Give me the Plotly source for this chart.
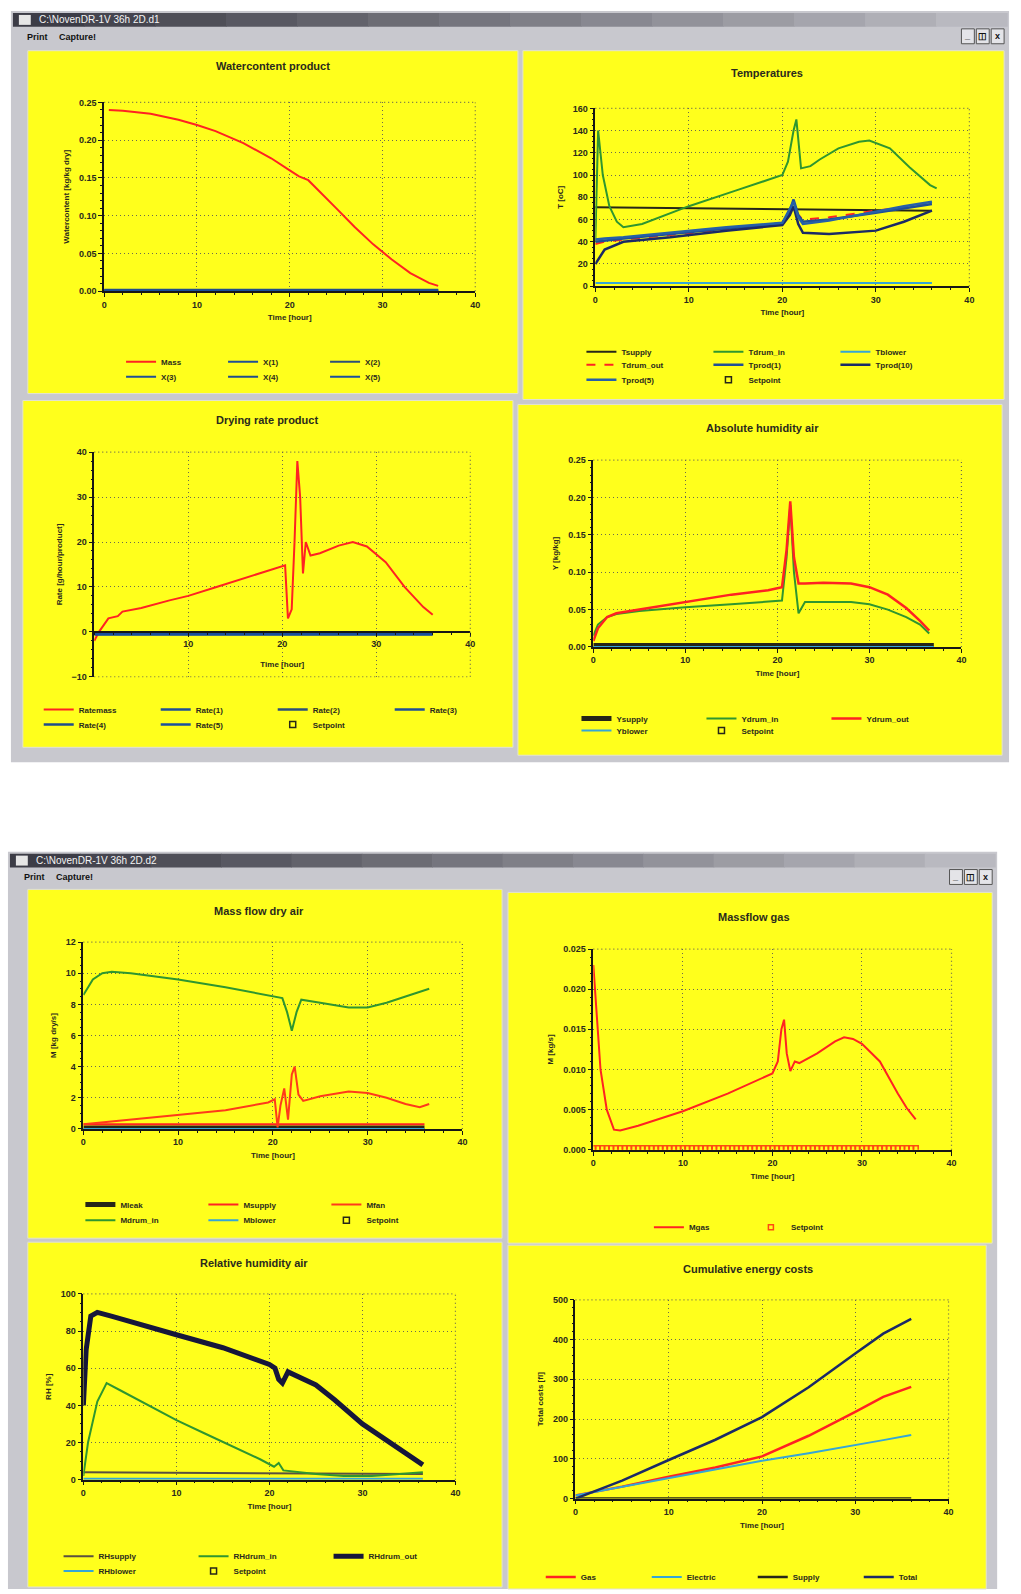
import plotly.graph_objects as go

W, H = 1021, 1594


def fx(x):
    return x / W


def fy(y):
    return 1 - y / H


# ------------------------------------------------------------------ data
# Panel 1 : Watercontent product
wc_time = [0.5, 2, 5, 8, 10, 12, 15, 18, 20, 21, 22, 23, 25, 27, 29, 31, 33, 35, 36]
wc_mass = [0.240, 0.239, 0.235, 0.227, 0.220, 0.212, 0.196, 0.176, 0.160, 0.152,
           0.147, 0.135, 0.110, 0.085, 0.062, 0.042, 0.024, 0.011, 0.007]
wc_x_time = [0, 36]
wc_x1 = [0.002, 0.002]
wc_x2 = [0.0015, 0.0015]
wc_x3 = [0.001, 0.001]
wc_x4 = [0.0005, 0.0005]
wc_x5 = [0.0, 0.0]

# Panel 2 : Temperatures
t_supply_time = [0, 36]
t_supply = [71, 68]
t_drumin_time = [0, 0.3, 0.8, 1.5, 2.3, 3, 5, 10, 15, 20, 20.6, 21.2, 21.5, 22, 23, 24, 26, 28.2, 29.3, 31.5, 33.6, 35.8, 36.5]
t_drumin = [40, 140, 100, 72, 58, 53, 56, 72, 86, 100, 112, 140, 150, 106, 108, 114, 124, 130, 131, 124, 107, 91, 88]
t_blower_time = [0, 36]
t_blower = [3, 3]
t_prod_time = [0, 1, 3, 8, 14, 20, 20.8, 21.2, 21.7, 22.2, 25, 30, 33, 36]
t_drumout = [38, 40, 42, 46, 51, 57, 66, 73, 64, 60, 62, 68, 71, 75]
t_prod1 = [40, 41, 43, 47, 52, 56, 68, 78, 64, 58, 60, 66, 70, 74]
t_prod10 = [20, 33, 40, 44, 50, 55, 64, 72, 56, 48, 47, 50, 58, 68]
t_prod5 = [42, 43, 44, 48, 53, 57, 70, 76, 62, 56, 59, 67, 72, 76]

# Panel 3 : Drying rate product
rate_time = [0, 0.5, 1.5, 2.5, 3, 5, 8, 10, 13, 16, 19, 20.3, 20.6, 21.0, 21.3, 21.6,
             21.9, 22.2, 22.5, 23, 24, 26, 27.5, 29, 31, 33, 35, 36]
rate_mass = [-2, 0, 3, 3.5, 4.5, 5.3, 7, 8, 10, 12, 14, 14.8, 3, 5, 20, 38,
             30, 13, 20, 17, 17.5, 19.2, 20, 19, 15.5, 10, 5.5, 3.8]
rate_n_time = [0, 36]
rate_1 = [-0.2, -0.2]
rate_2 = [-0.3, -0.3]
rate_3 = [-0.4, -0.4]
rate_4 = [-0.5, -0.5]
rate_5 = [-0.6, -0.6]

# Panel 4 : Absolute humidity air
y_time = [0, 0.5, 1.5, 2.5, 5, 10, 15, 19, 20.5, 21, 21.4, 21.8, 22.3, 23, 25, 28, 30, 32, 34, 35.5, 36.5]
y_drumout = [0.008, 0.025, 0.040, 0.045, 0.050, 0.060, 0.070, 0.076, 0.080, 0.130, 0.195,
             0.120, 0.085, 0.085, 0.086, 0.085, 0.080, 0.070, 0.052, 0.035, 0.022]
y_drumin = [0.015, 0.030, 0.040, 0.044, 0.048, 0.053, 0.057, 0.060, 0.062, 0.120, 0.190,
            0.100, 0.045, 0.060, 0.060, 0.060, 0.057, 0.050, 0.040, 0.030, 0.018]
y_flat_time = [0, 37]
y_supply = [0.002, 0.002]
y_blower = [0.0, 0.0]

# Panel 5 : Mass flow dry air
m_in_time = [0, 1, 2, 3, 5, 10, 15, 20, 21, 21.5, 22, 22.5, 23, 25, 28, 30, 32, 34, 36.5]
m_drumin = [8.6, 9.6, 10.0, 10.1, 10.0, 9.6, 9.1, 8.5, 8.4, 7.5, 6.3, 7.5, 8.3, 8.1, 7.8, 7.8, 8.1, 8.5, 9.0]
m_fan_time = [0, 5, 10, 15, 19.5, 20.2, 20.5, 20.8, 21.2, 21.6, 22, 22.3, 22.7, 23.2,
              25, 28, 30, 32, 34, 35.5, 36.5]
m_fan = [0.3, 0.6, 0.9, 1.2, 1.7, 1.9, 0.1, 1.5, 2.6, 0.6, 3.5, 4.0, 2.2, 1.8,
         2.1, 2.4, 2.3, 2.0, 1.6, 1.4, 1.6]
m_flat_time = [0, 36]
m_supply = [0.3, 0.3]
m_leak = [0.05, 0.05]
m_blower = [0.0, 0.0]

# Panel 6 : Massflow gas
g_time = [0, 0.3, 0.8, 1.5, 2.3, 3, 5, 10, 15, 20, 20.6, 21, 21.3, 21.6, 22, 22.5, 23,
          25, 27, 28, 29, 30, 32, 34, 35, 36]
m_gas = [0.023, 0.018, 0.010, 0.005, 0.0025, 0.0024, 0.0030, 0.0048, 0.0070, 0.0095,
         0.0110, 0.0150, 0.0162, 0.0120, 0.0098, 0.0110, 0.0108, 0.0120, 0.0135, 0.0140,
         0.0138, 0.0132, 0.0110, 0.0070, 0.0052, 0.0038]
g_setpoint_time = [0, 0.5, 1, 1.5, 2, 2.5, 3, 3.5, 4, 4.5, 5, 5.5, 6, 6.5, 7, 7.5, 8, 8.5,
                   9, 9.5, 10, 10.5, 11, 11.5, 12, 12.5, 13, 13.5, 14, 14.5, 15, 15.5, 16,
                   16.5, 17, 17.5, 18, 18.5, 19, 19.5, 20, 20.5, 21, 21.5, 22, 22.5, 23,
                   23.5, 24, 24.5, 25, 25.5, 26, 26.5, 27, 27.5, 28, 28.5, 29, 29.5, 30,
                   30.5, 31, 31.5, 32, 32.5, 33, 33.5, 34, 34.5, 35, 35.5, 36]
g_setpoint = [0.0002] * len(g_setpoint_time)

# Panel 7 : Relative humidity air
rh_out_time = [0, 0.3, 0.8, 1.5, 3, 5, 10, 15, 20, 20.6, 21, 21.4, 22, 25, 27, 30, 33, 36.5]
rh_drumout = [40, 70, 88, 90, 88, 85, 78, 71, 62, 60, 54, 52, 58, 51, 43, 30, 20, 8]
rh_in_time = [0, 0.5, 1.5, 2.5, 4, 7, 10, 13, 16, 19, 20.5, 21, 21.5, 23, 25, 28, 31, 34, 36.5]
rh_drumin = [2, 20, 42, 52, 48, 40, 32, 25, 18, 11, 7, 9, 5, 4, 3, 2, 2, 3, 4]
rh_flat_time = [0, 36.5]
rh_supply = [4, 3]
rh_blower = [0.5, 0.5]

# Panel 8 : Cumulative energy costs
c_time = [0, 5, 10, 15, 20, 25, 30, 33, 36]
c_total = [0, 45, 97, 148, 205, 280, 365, 415, 452]
c_gas = [8, 30, 55, 78, 106, 158, 218, 256, 281]
c_electric = [8, 30, 52, 74, 95, 114, 134, 147, 160]
c_supply_time = [0, 36]
c_supply = [0, 0]

# ------------------------------------------------------------------ styles
RED = "#ff2222"
GREEN = "#2f962f"
BLUE = "#1f4f96"
NAVY = "#1b2a66"
BLACK = "#262618"
CYAN = "#35a6d6"
TXT = "#2a2a1c"
GRID = "#6a6a50"
FONT = "Liberation Sans"

fig = go.Figure()

# panel geometry in pixels: yellow rect, plot area (x0,y0,x1,y1)
panels = {
    1: dict(rect=(25, 46, 519, 391), plot=(102, 98, 476, 288), title="Watercontent product", tpos=(272, 61),
            yr=[0, 0.25], yd=0.05, ym=0.01, fmt=".2f", ytitle="Watercontent [kg/kg dry]"),
    2: dict(rect=(524, 46, 1009, 397), plot=(597, 104, 974, 283), title="Temperatures", tpos=(770, 68),
            yr=[0, 160], yd=20, ym=5, fmt="", ytitle="T [oC]"),
    3: dict(rect=(20, 398, 514, 747), plot=(92, 450, 471, 676), title="Drying rate product", tpos=(266, 418),
            yr=[-10, 40], yd=10, ym=2, fmt="", ytitle="Rate [g/hour/product]"),
    4: dict(rect=(519, 402, 1007, 755), plot=(595, 458, 966, 646), title="Absolute humidity air", tpos=(765, 426),
            yr=[0, 0.25], yd=0.05, ym=0.01, fmt=".2f", ytitle="Y [kg/kg]"),
    5: dict(rect=(25, 890, 503, 1241), plot=(81, 943, 463, 1131), title="Mass flow dry air", tpos=(258, 912),
            yr=[0, 12], yd=2, ym=0.5, fmt="", ytitle="M [kg dry/s]"),
    6: dict(rect=(509, 893, 997, 1246), plot=(595, 950, 956, 1152), title="Massflow gas", tpos=(757, 918),
            yr=[0, 0.025], yd=0.005, ym=0.001, fmt=".3f", ytitle="M [kg/s]"),
    7: dict(rect=(25, 1245, 503, 1592), plot=(81, 1297, 456, 1484), title="Relative humidity air", tpos=(253, 1266),
            yr=[0, 100], yd=20, ym=5, fmt="", ytitle="RH [%]"),
    8: dict(rect=(509, 1248, 991, 1594), plot=(577, 1303, 953, 1503), title="Cumulative energy costs", tpos=(751, 1272),
            yr=[0, 500], yd=100, ym=20, fmt="", ytitle="Total costs [fl]"),
}

shapes = []
annotations = []


def rect(x0, y0, x1, y1, fill, line=None, lw=0):
    shapes.append(dict(type="rect", xref="paper", yref="paper", x0=fx(x0), x1=fx(x1), y0=fy(y1), y1=fy(y0),
                       fillcolor=fill, line=dict(color=line or fill, width=lw), layer="below"))


def text(x, y, s, size=9, color=TXT, xanchor="center", bold=True):
    annotations.append(dict(xref="paper", yref="paper", x=fx(x), y=fy(y), text=s, showarrow=False,
                            xanchor=xanchor, yanchor="middle",
                            font=dict(family=FONT, size=size, color=color, weight="bold" if bold else "normal")))


def window(x0, y0, x1, y1, title):
    rect(x0, y0, x1, y1, "#c8c8ce")
    # title bar gradient
    n = 14
    c0, c1 = (60, 60, 70), (185, 185, 192)
    step = (x1 - x0 - 4) / n
    for i in range(n):
        f = i / (n - 1)
        c = "rgb(%d,%d,%d)" % tuple(int(a + (b - a) * f) for a, b in zip(c0, c1))
        rect(x0 + 2 + i * step, y0 + 2, x0 + 2 + (i + 1) * step + 0.6, y0 + 16, c)
    rect(x0 + 8, y0 + 4, x0 + 20, y0 + 14, "#e6e6e6")
    text(x0 + 26, y0 + 9, title, size=10, color="#f4f4f4", xanchor="left", bold=False)
    text(x0 + 14, y0 + 26, "Print", size=9, color="#111111", xanchor="left")
    text(x0 + 46, y0 + 26, "Capture!", size=9, color="#111111", xanchor="left")
    for k, g in enumerate(["_", "◫", "x"]):
        bx = x1 - 48 + k * 15
        rect(bx, y0 + 18, bx + 13, y0 + 33, "#e4e4e8", "#555555", 1)
        text(bx + 6.5, y0 + 25.5, g, size=9, color="#111111")


window(8, 6, 1014, 762, "C:\\NovenDR-1V 36h 2D.d1")
window(5, 852, 1002, 1594, "C:\\NovenDR-1V 36h 2D.d2")

for i, p in panels.items():
    rect(*p["rect"], "#ffff1c", "#e2e2d0", 1)
    text(p["tpos"][0], p["tpos"][1], p["title"], size=11)

layout_axes = {}
tickfont = dict(family=FONT, size=9, color=TXT, weight="bold")
titlefont = dict(family=FONT, size=8, color=TXT, weight="bold")
for i, p in panels.items():
    x0, y0, x1, y1 = p["plot"]
    xs = "" if i == 1 else str(i)
    xa = dict(domain=[fx(x0), fx(x1)], range=[0, 40], dtick=10, tick0=0,
              showline=True, linecolor="#161616", linewidth=1.5, zeroline=False,
              showgrid=True, gridcolor=GRID, griddash="1px,3px", gridwidth=1.2,
              ticks="outside", ticklen=4, tickcolor="#161616", tickfont=tickfont,
              minor=dict(dtick=2, ticks="outside", ticklen=2, tickcolor="#161616", showgrid=False),
              title=dict(text="Time [hour]", font=titlefont, standoff=6),
              anchor="y" + xs, fixedrange=True)
    ya = dict(domain=[fy(y1), fy(y0)], range=p["yr"], dtick=p["yd"], tick0=p["yr"][0],
              showline=True, linecolor="#161616", linewidth=1.5, zeroline=False,
              showgrid=True, gridcolor=GRID, griddash="1px,3px", gridwidth=1.2,
              ticks="outside", ticklen=4, tickcolor="#161616", tickfont=tickfont, tickformat=p["fmt"],
              minor=dict(dtick=p["ym"], ticks="outside", ticklen=2, tickcolor="#161616", showgrid=False),
              title=dict(text=p["ytitle"], font=titlefont, standoff=8),
              anchor="x" + xs, fixedrange=True)
    if i == 3:
        xa.update(anchor="free", position=fy(y1) + 0.2 * (fy(y0) - fy(y1)),
                  tickvals=[10, 20, 30, 40], title=dict(text="Time [hour]", font=titlefont, standoff=12))
    layout_axes["xaxis" + xs] = xa
    layout_axes["yaxis" + xs] = ya
    # dotted frame at the far edges (grid lines at range ends)
    edges = [((0, 1), (1, 1)), ((1, 0), (1, 1))]
    if i == 3:
        edges.append(((0, 0), (1, 0)))
    for (ax0, ay0), (ax1, ay1) in edges:
        shapes.append(dict(type="line", xref="x%s domain" % xs, yref="y%s domain" % xs,
                           x0=ax0, y0=ay0, x1=ax1, y1=ay1,
                           line=dict(color=GRID, width=1.2, dash="1px,3px")))

# ------------------------------------------------------------------ traces
legends = {}
leg_count = [0]


def new_legend(x, y, spacing):
    leg_count[0] += 1
    key = "legend" if leg_count[0] == 1 else "legend%d" % leg_count[0]
    legends[key] = dict(x=fx(x - 5), y=fy(y), xanchor="left", yanchor="middle", orientation="h",
                        entrywidth=spacing - 45, entrywidthmode="pixels", bgcolor="rgba(0,0,0,0)",
                        borderwidth=0, font=dict(family=FONT, size=8, color=TXT, weight="bold"),
                        tracegroupgap=0, itemwidth=30, traceorder="normal", itemclick=False,
                        itemdoubleclick=False)
    return key


def line(panel, leg, name, x, y, color, width=2, dash="solid"):
    xs = "" if panel == 1 else str(panel)
    fig.add_trace(go.Scatter(x=x, y=y, name=name, mode="lines", legend=leg,
                             line=dict(color=color, width=width, dash=dash),
                             xaxis="x" + xs, yaxis="y" + xs, hoverinfo="skip"))


def setpoint(panel, leg, color=BLACK, x=None, y=None, size=6):
    xs = "" if panel == 1 else str(panel)
    fig.add_trace(go.Scatter(x=x if x is not None else [None], y=y if y is not None else [None],
                             name="Setpoint", mode="markers", legend=leg,
                             marker=dict(symbol="square-open", size=size, color=color, line=dict(width=1.5)),
                             xaxis="x" + xs, yaxis="y" + xs, hoverinfo="skip"))


# Panel 1
L = new_legend(124, 359, 102)
line(1, L, "Mass", wc_time, wc_mass, RED)
line(1, L, "X(1)", wc_x_time, wc_x1, BLUE)
line(1, L, "X(2)", wc_x_time, wc_x2, "#2b4f7a")
L = new_legend(124, 374, 102)
line(1, L, "X(3)", wc_x_time, wc_x3, BLUE)
line(1, L, "X(4)", wc_x_time, wc_x4, "#1f4c8c")
line(1, L, "X(5)", wc_x_time, wc_x5, "#1a4f9e")

# Panel 2
L = new_legend(588, 349, 127)
line(2, L, "Tsupply", t_supply_time, t_supply, BLACK)
line(2, L, "Tdrum_in", t_drumin_time, t_drumin, GREEN)
line(2, L, "Tblower", t_blower_time, t_blower, CYAN)
L = new_legend(588, 362, 127)
line(2, L, "Tdrum_out", t_prod_time, t_drumout, RED, dash="dash")
line(2, L, "Tprod(1)", t_prod_time, t_prod1, BLUE, width=2.5)
line(2, L, "Tprod(10)", t_prod_time, t_prod10, NAVY, width=2.5)
L = new_legend(588, 377, 127)
line(2, L, "Tprod(5)", t_prod_time, t_prod5, "#2660a8", width=2.5)
setpoint(2, L)

# Panel 3
L = new_legend(41, 709, 117)
line(3, L, "Ratemass", rate_time, rate_mass, RED)
line(3, L, "Rate(1)", rate_n_time, rate_1, BLUE, width=2.5)
line(3, L, "Rate(2)", rate_n_time, rate_2, "#2b4f7a", width=2.5)
line(3, L, "Rate(3)", rate_n_time, rate_3, BLUE, width=2.5)
L = new_legend(41, 724, 117)
line(3, L, "Rate(4)", rate_n_time, rate_4, "#1f4c8c", width=2.5)
line(3, L, "Rate(5)", rate_n_time, rate_5, "#1a4f9e", width=2.5)
setpoint(3, L)

# Panel 4
L = new_legend(583, 718, 125)
line(4, L, "Ysupply", y_flat_time, y_supply, BLACK, width=5)
line(4, L, "Ydrum_in", y_time, y_drumin, GREEN)
line(4, L, "Ydrum_out", y_time, y_drumout, RED, width=2.5)
L = new_legend(583, 730, 125)
line(4, L, "Yblower", y_flat_time, y_blower, CYAN)
setpoint(4, L)

# Panel 5
L = new_legend(83, 1207, 123)
line(5, L, "Mleak", m_flat_time, m_leak, BLACK, width=5)
line(5, L, "Msupply", m_flat_time, m_supply, RED)
line(5, L, "Mfan", m_fan_time, m_fan, "#ff3a1a")
L = new_legend(83, 1223, 123)
line(5, L, "Mdrum_in", m_in_time, m_drumin, GREEN)
line(5, L, "Mblower", m_flat_time, m_blower, CYAN)
setpoint(5, L)

# Panel 6
L = new_legend(656, 1230, 102)
line(6, L, "Mgas", g_time, m_gas, RED)
setpoint(6, L, color="#ff4a10", x=g_setpoint_time, y=g_setpoint, size=5)

# Panel 7
L = new_legend(61, 1561, 135)
line(7, L, "RHsupply", rh_flat_time, rh_supply, "#5a5040")
line(7, L, "RHdrum_in", rh_in_time, rh_drumin, GREEN)
line(7, L, "RHdrum_out", rh_out_time, rh_drumout, "#16163a", width=5)
L = new_legend(61, 1576, 135)
line(7, L, "RHblower", rh_flat_time, rh_blower, CYAN)
setpoint(7, L)

# Panel 8
L = new_legend(547, 1582, 106)
line(8, L, "Gas", c_time, c_gas, RED, width=2.5)
line(8, L, "Electric", c_time, c_electric, CYAN)
line(8, L, "Supply", c_supply_time, c_supply, BLACK, width=2.5)
line(8, L, "Total", c_time, c_total, NAVY, width=2.5)

fig.update_layout(width=W, height=H, margin=dict(l=0, r=0, t=0, b=0, pad=0),
                  paper_bgcolor="#ffffff", plot_bgcolor="rgba(0,0,0,0)",
                  shapes=shapes, annotations=annotations, showlegend=True,
                  **layout_axes, **legends)

fig.write_html("out.html")
